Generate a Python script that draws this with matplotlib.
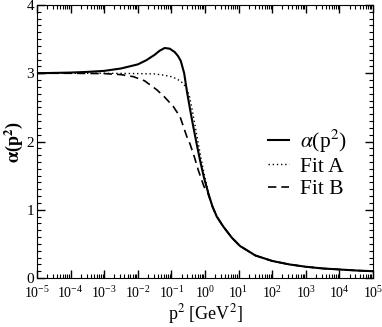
import matplotlib
matplotlib.use('Agg')
import matplotlib.pyplot as plt
from matplotlib.ticker import LogLocator, MultipleLocator, NullFormatter
import numpy as np

plt.rcParams['font.family'] = ['Liberation Serif', 'DejaVu Serif']
plt.rcParams['mathtext.fontset'] = 'stix'

# log10(p^2) and alpha(p^2)
logp_alpha = [-5.0, -4.5, -4.0, -3.5, -3.0, -2.5, -2.0, -1.75, -1.5, -1.35, -1.2, -1.05,
              -0.9, -0.8, -0.72, -0.62, -0.53, -0.44, -0.35, -0.25, -0.15, -0.03, 0.10,
              0.22, 0.35, 0.55, 0.8, 1.04, 1.5, 2.0, 2.5, 3.0, 3.5, 4.0, 4.5, 5.0]
alpha = [3.00, 3.005, 3.01, 3.02, 3.035, 3.07, 3.13, 3.19, 3.27, 3.33, 3.37, 3.36,
         3.31, 3.25, 3.18, 3.00, 2.71, 2.46, 2.22, 1.97, 1.73, 1.47, 1.24,
         1.05, 0.90, 0.75, 0.59, 0.47, 0.33, 0.25, 0.20, 0.165, 0.14, 0.125, 0.11, 0.10]

logp_fitA = [-5.0, -4.0, -3.0, -2.0, -1.5, -1.2, -1.0, -0.85, -0.72, -0.63, -0.55, -0.47,
             -0.38, -0.29, -0.2, -0.11, 0.0, 0.11, 0.22, 0.35, 0.55, 0.8, 1.04, 1.5,
             2.0, 2.5, 3.0, 3.5, 4.0, 4.5, 5.0]
fitA = [3.00, 3.00, 3.00, 2.995, 2.99, 2.97, 2.95, 2.92, 2.88, 2.84, 2.77, 2.68,
        2.46, 2.22, 1.97, 1.73, 1.47, 1.24, 1.05, 0.90, 0.75, 0.59, 0.47, 0.33,
        0.25, 0.20, 0.165, 0.14, 0.125, 0.11, 0.10]

logp_fitB = [-5.0, -4.0, -3.0, -2.5, -2.13, -1.8, -1.44, -1.2, -0.94, -0.74, -0.54, -0.45,
             -0.32, -0.2, -0.03, 0.08, 0.22, 0.35, 0.55, 0.8, 1.04, 1.5, 2.0, 2.5,
             3.0, 3.5, 4.0, 4.5, 5.0]
fitB = [3.00, 3.00, 2.995, 2.98, 2.95, 2.89, 2.76, 2.65, 2.51, 2.36, 2.07, 1.97,
        1.78, 1.58, 1.34, 1.25, 1.05, 0.90, 0.75, 0.59, 0.47, 0.33, 0.25, 0.20,
        0.165, 0.14, 0.125, 0.11, 0.10]

fig = plt.figure(figsize=(3.82, 3.27), dpi=100)
ax = fig.add_axes([0.0969, 0.1498, 0.8795, 0.8349])

ax.plot(10 ** np.array(logp_alpha), alpha, color='black', lw=1.5, ls='-',
        label=r'$\alpha$(p$^2$)')
ax.plot(10 ** np.array(logp_fitA), fitA, color='black', lw=1.0, ls=(0, (1, 2)),
        label='Fit A')
ax.plot(10 ** np.array(logp_fitB), fitB, color='black', lw=1.2, ls=(0, (5, 3)),
        label='Fit B')

ax.set_xscale('log')
ax.set_xlim(1e-5, 1e5)
ax.set_ylim(0, 4)

ax.xaxis.set_major_locator(LogLocator(base=10, numticks=20))
ax.xaxis.set_minor_locator(LogLocator(base=10, subs=np.arange(2, 10), numticks=20))
ax.xaxis.set_minor_formatter(NullFormatter())
ax.yaxis.set_major_locator(MultipleLocator(1))
ax.yaxis.set_minor_locator(MultipleLocator(0.1))

ax.tick_params(which='both', direction='in', top=True, right=True)
ax.tick_params(which='major', length=6, width=1)
ax.tick_params(which='minor', length=3, width=0.8)
ax.tick_params(axis='x', labelsize=10, pad=5)
ax.tick_params(axis='y', labelsize=11, pad=2)

ax.set_xlabel(r'p$^2$ [GeV$^2$]', fontsize=13, labelpad=1)
ax.set_ylabel(r'$\mathbf{\alpha}$(p$^\mathbf{2}$)', fontsize=13, fontweight='bold', labelpad=1)

ax.legend(loc='center left', bbox_to_anchor=(0.655, 0.42), frameon=False,
          fontsize=15.5, handlelength=1.0, handletextpad=0.5, borderpad=0,
          labelspacing=0.1)

fig.savefig('out.png', dpi=100)
